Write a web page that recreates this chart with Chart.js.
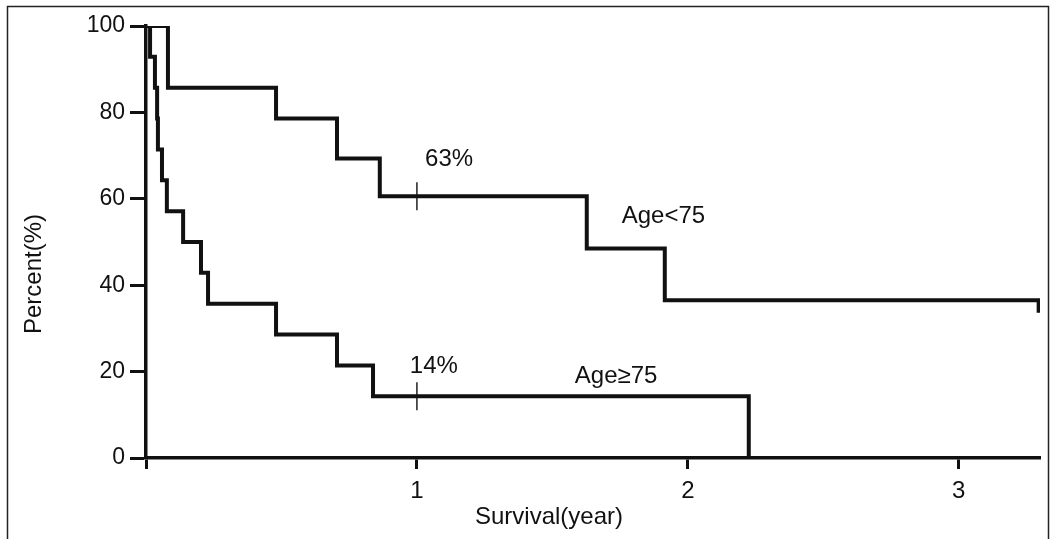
<!DOCTYPE html>
<html>
<head>
<meta charset="utf-8">
<script src="https://cdn.jsdelivr.net/npm/chart.js@4"></script>
<style>
  html, body { margin: 0; padding: 0; background: #fff; }
</style>
</head>
<body>
<canvas id="kmChart" width="1052" height="539"></canvas>
<script>
// Age<75 (time in years, survival %)
const youngTimes = [0, 0.081, 0.48, 0.705, 0.863, 1.627, 1.915, 3.295];
const youngSurv = [100, 85.7, 78.6, 69.3, 60.6, 48.5, 36.5, 33.6];

// Age>=75
const oldTimes = [0, 0.015, 0.033, 0.041, 0.044, 0.059, 0.077, 0.137, 0.203, 0.229, 0.48, 0.705, 0.838, 2.225, 3.3];
const oldSurv = [100, 92.9, 85.7, 78.6, 71.4, 64.3, 57.1, 50, 42.9, 35.7, 28.6, 21.4, 14.3, 0, 0];

// 1 year marks
const markTimes = [1, 1];
const markSurv = [60.6, 14.3];

const xTickValues = [0, 1, 2, 3];
const yTickValues = [0, 20, 40, 60, 80, 100];

// text on the plot, in data units
const notes = [
  { text: "63%", x: 1.03, y: 67.6 },
  { text: "Age<75", x: 1.756, y: 54.4 },
  { text: "14%", x: 0.974, y: 19.7 },
  { text: "Age\u226575", x: 1.583, y: 17.4 }
];

const FONT = "Arial, 'Liberation Sans', Helvetica, sans-serif";

const toPoints = (xs, ys) => xs.map((x, i) => ({ x, y: ys[i] }));

const frameAndText = {
  id: "frameAndText",
  beforeDraw(chart) {
    const ctx = chart.ctx;
    ctx.save();
    ctx.strokeStyle = "#222";
    ctx.lineWidth = 1.5;
    ctx.strokeRect(7.5, 6.5, 1041, 540);
    ctx.restore();
  },
  afterDraw(chart) {
    const ctx = chart.ctx;
    const xs = chart.scales.x, ys = chart.scales.y;
    ctx.save();
    ctx.fillStyle = "#111";
    ctx.font = "24px " + FONT;
    ctx.textAlign = "left";
    ctx.textBaseline = "alphabetic";
    notes.forEach(n => {
      ctx.fillText(n.text, xs.getPixelForValue(n.x), ys.getPixelForValue(n.y));
    });

    // axis titles
    ctx.textAlign = "center";
    ctx.textBaseline = "middle";
    ctx.fillText("Survival(year)", 549, 517);
    ctx.translate(34, 274);
    ctx.rotate(-Math.PI / 2);
    ctx.fillText("Percent(%)", 0, 0);
    ctx.restore();
  }
};

new Chart(document.getElementById("kmChart"), {
  type: "line",
  data: {
    datasets: [
      {
        label: "Age<75",
        data: toPoints(youngTimes, youngSurv),
        stepped: "before",
        borderColor: "#111",
        borderWidth: 4,
        pointRadius: 0,
        fill: false
      },
      {
        label: "Age>=75",
        data: toPoints(oldTimes, oldSurv),
        stepped: "before",
        borderColor: "#111",
        borderWidth: 4,
        pointRadius: 0,
        fill: false
      },
      {
        label: "1 year",
        data: toPoints(markTimes, markSurv),
        showLine: false,
        pointStyle: "line",
        rotation: 90,
        pointRadius: 14,
        borderColor: "#222",
        borderWidth: 1.5
      }
    ]
  },
  options: {
    responsive: false,
    devicePixelRatio: 1,
    animation: false,
    layout: { autoPadding: false, padding: { left: 0, right: 12, top: 26, bottom: 0 } },
    plugins: {
      legend: { display: false },
      tooltip: { enabled: false }
    },
    scales: {
      x: {
        type: "linear",
        min: 0,
        max: 3.3,
        afterBuildTicks: s => { s.ticks = xTickValues.map(v => ({ value: v })); },
        afterFit: s => { s.height = 81; s.paddingLeft = 0; s.paddingRight = 0; },
        border: { display: true, color: "#111", width: 3.5 },
        grid: { drawOnChartArea: false, drawTicks: true, tickLength: 11, tickColor: "#111", tickWidth: 3 },
        ticks: {
          color: "#111",
          padding: 8,
          font: { family: FONT, size: 24 },
          callback: v => (v === 0 ? "" : v)
        }
      },
      y: {
        min: 0,
        max: 100,
        afterBuildTicks: s => { s.ticks = yTickValues.map(v => ({ value: v })); },
        afterFit: s => { s.width = 146; s.paddingTop = 0; s.paddingBottom = 0; },
        border: { display: true, color: "#111", width: 3.5 },
        grid: { drawOnChartArea: false, drawTicks: true, tickLength: 16, tickColor: "#111", tickWidth: 3 },
        ticks: {
          color: "#111",
          padding: 5,
          font: { family: FONT, size: 23 }
        }
      }
    }
  },
  plugins: [frameAndText]
});
</script>
</body>
</html>
